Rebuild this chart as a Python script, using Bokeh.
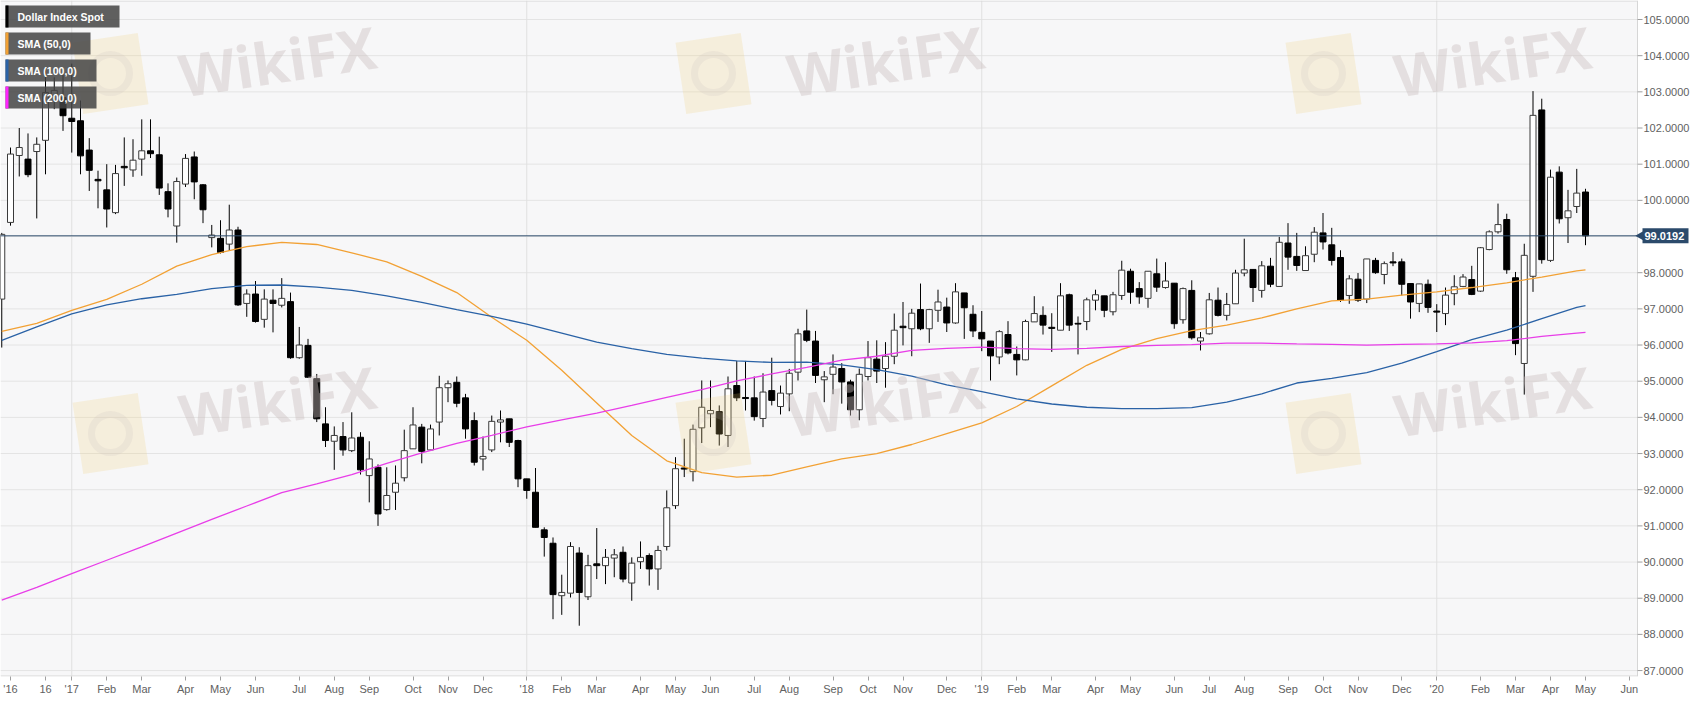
import math
import numpy as np
import pandas as pd
from bokeh.plotting import figure
from bokeh.models import Range1d, FixedTicker, Label, CustomJSTickFormatter, ColumnDataSource
from bokeh.core.properties import value
from bokeh.embed import file_html
from bokeh.resources import INLINE

# ---------------- data (weekly candles, Dollar Index Spot) ----------------
first_week = "2016-11-07"

opens = [
    97.27, 99.39, 101.24, 101.14, 101.35, 101.66, 102.90, 102.84, 102.27, 102.20,
    101.39, 100.58, 100.29, 99.66, 100.94, 100.84, 101.14, 101.37, 101.26, 100.24,
    99.29, 100.45, 101.20, 100.43, 98.97, 98.95, 98.79, 99.18, 97.15, 97.41,
    96.71, 97.24, 97.10, 97.20, 95.65, 95.99, 95.07, 93.82, 93.34, 93.47,
    93.08, 93.45, 92.39, 92.62, 91.45, 91.93, 92.33, 93.13, 93.73, 93.10,
    93.87, 94.82, 94.97, 94.54, 93.91, 92.85, 93.10, 93.87, 93.96, 93.36,
    92.30, 91.93, 90.89, 90.52, 89.07, 89.14, 90.25, 89.04, 89.95, 89.90,
    90.11, 90.27, 89.42, 90.01, 90.18, 89.81, 90.43, 91.56, 92.60, 92.50,
    93.71, 94.10, 94.16, 93.50, 94.88, 94.55, 94.54, 93.97, 94.74, 94.30,
    94.65, 95.25, 96.39, 96.11, 95.04, 95.19, 95.35, 94.98, 94.21, 95.13,
    95.61, 95.35, 95.69, 96.52, 96.45, 96.98, 96.45, 96.96, 97.05, 96.61,
    97.44, 96.85, 96.35, 96.11, 95.67, 96.29, 95.74, 95.59, 96.64, 96.82,
    96.49, 96.41, 97.39, 96.60, 96.65, 97.24, 97.36, 96.92, 97.37, 98.04,
    97.56, 97.29, 97.97, 97.59, 97.71, 96.70, 97.51, 96.11, 96.31, 97.24,
    96.82, 97.14, 97.99, 98.09, 97.51, 98.18, 97.62, 98.82, 98.45, 98.06,
    98.51, 99.10, 98.77, 98.42, 97.37, 97.82, 97.27, 98.34, 97.95, 98.30,
    98.30, 97.70, 97.15, 97.68, 96.94, 96.87, 97.42, 97.62, 97.81, 97.49,
    98.64, 99.13, 99.47, 97.86, 95.49, 97.90, 102.50, 98.34, 100.78, 99.52,
    99.83, 100.23,
]
highs = [
    99.10, 101.46, 102.00, 101.85, 101.74, 103.67, 103.40, 103.50, 103.78, 102.76,
    101.72, 100.82, 101.00, 100.98, 101.74, 101.69, 102.24, 102.24, 101.76, 100.47,
    100.63, 101.28, 101.35, 100.45, 99.32, 99.45, 99.88, 99.27, 97.54, 97.77,
    97.54, 97.54, 97.85, 97.45, 96.50, 96.17, 95.20, 94.28, 93.75, 93.87,
    94.14, 93.59, 93.34, 92.70, 92.62, 92.67, 93.66, 94.28, 93.82, 93.80,
    95.15, 95.02, 95.13, 94.65, 94.14, 93.47, 94.05, 94.19, 93.96, 93.38,
    92.30, 92.60, 90.96, 90.68, 89.65, 90.55, 90.41, 90.20, 90.94, 90.36,
    90.36, 90.43, 90.13, 90.57, 90.24, 90.45, 91.98, 92.90, 93.41, 93.80,
    95.02, 95.02, 94.33, 95.13, 95.56, 95.56, 95.13, 95.22, 95.65, 94.88,
    95.34, 96.45, 96.98, 96.39, 95.28, 95.74, 95.50, 95.04, 95.35, 96.11,
    96.13, 96.08, 96.87, 97.19, 97.00, 97.70, 97.00, 97.53, 97.31, 97.71,
    97.44, 97.10, 96.94, 96.11, 96.41, 96.66, 95.96, 96.70, 97.35, 97.07,
    96.88, 97.71, 97.42, 96.79, 97.31, 97.53, 97.36, 97.47, 98.33, 98.11,
    97.74, 98.04, 98.39, 98.29, 97.71, 97.59, 97.79, 96.36, 97.44, 97.59,
    97.44, 98.08, 98.94, 98.09, 98.32, 98.41, 98.99, 99.37, 99.10, 98.73,
    99.26, 99.65, 99.24, 98.62, 97.93, 97.99, 98.38, 98.41, 98.31, 98.57,
    98.39, 97.70, 97.69, 97.81, 97.13, 97.59, 97.93, 97.96, 98.19, 98.71,
    99.17, 99.91, 99.63, 98.02, 98.80, 103.02, 102.81, 100.85, 100.94, 100.29,
    100.87, 100.32,
]
lows = [
    95.93, 99.30, 100.66, 100.64, 99.50, 100.72, 102.52, 101.92, 101.32, 100.72,
    100.26, 99.78, 99.25, 99.62, 100.40, 100.65, 100.68, 101.17, 100.15, 99.53,
    98.83, 100.37, 100.03, 99.37, 98.70, 98.53, 98.60, 97.08, 96.78, 96.62,
    96.48, 96.35, 97.04, 95.62, 95.62, 95.09, 93.87, 93.18, 92.55, 92.94,
    93.04, 92.42, 91.65, 91.00, 91.42, 91.44, 92.23, 93.13, 92.73, 93.10,
    93.50, 94.42, 94.28, 93.41, 92.67, 92.53, 93.04, 93.31, 93.18, 92.07,
    91.75, 90.96, 90.15, 88.42, 88.54, 89.02, 88.24, 88.95, 89.53, 89.39,
    89.58, 89.44, 88.93, 89.81, 89.35, 89.23, 90.32, 91.47, 92.35, 92.23,
    93.29, 93.73, 93.22, 93.18, 94.45, 94.19, 93.91, 93.73, 94.33, 94.08,
    94.17, 95.02, 96.08, 94.95, 94.42, 94.64, 94.38, 94.05, 93.92, 95.02,
    94.95, 94.82, 95.47, 95.99, 95.69, 96.41, 96.06, 96.64, 96.36, 96.59,
    96.17, 96.22, 95.83, 95.02, 95.47, 95.74, 95.16, 95.58, 96.64, 96.29,
    95.81, 96.41, 96.39, 95.74, 96.41, 96.96, 96.77, 96.82, 97.25, 97.14,
    97.14, 97.03, 97.47, 97.56, 96.45, 96.59, 96.15, 95.85, 96.29, 96.79,
    96.68, 97.14, 97.90, 97.19, 97.31, 97.60, 97.62, 98.08, 98.05, 98.06,
    98.29, 98.64, 98.20, 97.19, 97.14, 97.19, 97.16, 97.97, 97.68, 98.18,
    97.37, 96.73, 96.91, 96.89, 96.36, 96.55, 97.10, 97.60, 97.38, 97.47,
    98.62, 99.08, 97.97, 95.72, 94.63, 97.47, 98.25, 98.30, 99.36, 98.82,
    99.65, 98.76,
]
closes = [
    99.06, 101.28, 101.46, 100.71, 101.55, 102.98, 103.04, 102.34, 102.18, 101.23,
    100.83, 100.54, 99.76, 100.74, 100.90, 101.11, 101.37, 101.29, 100.34, 99.76,
    100.52, 101.16, 100.51, 99.74, 99.04, 98.56, 99.18, 97.11, 97.41, 96.65,
    97.27, 97.15, 97.29, 95.65, 96.00, 95.11, 93.96, 93.36, 93.50, 93.10,
    93.43, 92.55, 92.85, 91.33, 91.84, 92.18, 93.08, 93.79, 93.06, 93.68,
    94.82, 94.93, 94.39, 93.68, 92.76, 92.92, 93.89, 93.93, 93.31, 92.30,
    91.98, 90.96, 90.68, 89.10, 89.16, 90.43, 89.16, 89.90, 89.90, 90.13,
    90.20, 89.53, 89.97, 90.13, 89.81, 90.32, 91.50, 92.58, 92.57, 93.67,
    94.28, 94.19, 93.54, 94.79, 94.54, 94.52, 94.02, 94.70, 94.47, 94.67,
    95.22, 96.31, 96.13, 95.16, 95.12, 95.39, 94.98, 94.21, 95.19, 95.65,
    95.28, 95.69, 96.41, 96.48, 96.88, 96.45, 96.98, 97.19, 96.61, 97.47,
    97.03, 96.39, 96.17, 95.70, 96.37, 95.78, 95.59, 96.65, 96.87, 96.55,
    96.46, 97.36, 96.55, 96.58, 97.25, 97.39, 96.96, 97.39, 98.07, 97.46,
    97.33, 98.04, 97.60, 97.77, 96.59, 97.56, 96.20, 96.20, 97.25, 96.82,
    97.12, 97.99, 98.08, 97.59, 98.19, 97.68, 98.84, 98.43, 98.20, 98.47,
    99.12, 98.85, 98.34, 97.24, 97.83, 97.24, 98.38, 98.00, 98.25, 98.27,
    97.68, 97.19, 97.69, 97.04, 96.91, 97.38, 97.61, 97.88, 97.40, 98.69,
    99.13, 99.33, 98.08, 96.04, 98.48, 102.35, 98.36, 100.64, 99.49, 99.71,
    100.20, 99.0192,
]

# moving averages at every 4th week (week index into the candles)
sma_weeks = list(range(0, 181, 4)) + [181]
sma50 = [96.38, 96.60, 96.96, 97.26, 97.68, 98.18, 98.50, 98.72, 98.84, 98.78,
         98.55, 98.30, 97.90, 97.45, 96.77, 96.13, 95.30, 94.40, 93.50, 92.80,
         92.47, 92.35, 92.40, 92.63, 92.85, 93.00, 93.25, 93.55, 93.85, 94.30,
         94.87, 95.44, 95.88, 96.18, 96.40, 96.55, 96.75, 97.00, 97.22, 97.27,
         97.38, 97.47, 97.59, 97.72, 97.88, 98.05, 98.08]
sma100 = [96.13, 96.50, 96.86, 97.11, 97.28, 97.40, 97.56, 97.65, 97.66, 97.60,
          97.51, 97.36, 97.18, 96.98, 96.79, 96.58, 96.33, 96.08, 95.90, 95.74,
          95.64, 95.56, 95.52, 95.53, 95.45, 95.32, 95.14, 94.90, 94.71, 94.51,
          94.37, 94.28, 94.24, 94.24, 94.27, 94.42, 94.65, 94.95, 95.08, 95.24,
          95.50, 95.82, 96.15, 96.41, 96.73, 97.04, 97.09]
sma200 = [88.95, 89.30, 89.68, 90.05, 90.42, 90.80, 91.18, 91.55, 91.92, 92.16,
          92.42, 92.73, 93.02, 93.28, 93.50, 93.74, 93.93, 94.12, 94.33, 94.55,
          94.77, 95.01, 95.20, 95.38, 95.58, 95.69, 95.85, 95.91, 95.94, 95.90,
          95.88, 95.91, 95.96, 95.99, 96.01, 96.05, 96.05, 96.03, 96.02, 96.00,
          96.02, 96.03, 96.06, 96.12, 96.24, 96.33, 96.35]

last_price = 99.0192

y_ticks = list(range(87, 106))
tick_dates = ["2016-11-14", "2016-12-12", "2017-01-02", "2017-01-30", "2017-02-27", "2017-04-03",
              "2017-05-01", "2017-05-29", "2017-07-03", "2017-07-31", "2017-08-28", "2017-10-02",
              "2017-10-30", "2017-11-27", "2018-01-01", "2018-01-29", "2018-02-26", "2018-04-02",
              "2018-04-30", "2018-05-28", "2018-07-02", "2018-07-30", "2018-09-03", "2018-10-01",
              "2018-10-29", "2018-12-03", "2018-12-31", "2019-01-28", "2019-02-25", "2019-04-01",
              "2019-04-29", "2019-06-03", "2019-07-01", "2019-07-29", "2019-09-02", "2019-09-30",
              "2019-10-28", "2019-12-02", "2019-12-30", "2020-02-03", "2020-03-02", "2020-03-30",
              "2020-04-27", "2020-06-01"]
tick_labels = ["'16", "16", "'17", "Feb", "Mar", "Apr", "May", "Jun", "Jul", "Aug", "Sep", "Oct",
               "Nov", "Dec", "'18", "Feb", "Mar", "Apr", "May", "Jun", "Jul", "Aug", "Sep", "Oct",
               "Nov", "Dec", "'19", "Feb", "Mar", "Apr", "May", "Jun", "Jul", "Aug", "Sep", "Oct",
               "Nov", "Dec", "'20", "Feb", "Mar", "Apr", "May", "Jun"]
year_lines = ["2017-01-02", "2018-01-01", "2018-12-31", "2019-12-30"]

legend_names = ["Dollar Index Spot", "SMA (50,0)", "SMA (100,0)", "SMA (200,0)"]

# ---------------- layout ----------------
CHART_W, AXIS_W, FRAME_H = 1637, 54, 676
TOTAL_W = CHART_W + AXIS_W
PX_PER_UNIT = 36.17
x_start = pd.Timestamp("2016-11-06")
PX_PER_DAY = 1.25
y_hi = 105 + 19 / PX_PER_UNIT
y_lo = y_hi - FRAME_H / PX_PER_UNIT

x0_ms = x_start.value / 1e6
ms_per_px = 86400000.0 / PX_PER_DAY
xc = x0_ms + CHART_W * ms_per_px          # right edge of the chart area
x_full_end = x0_ms + TOTAL_W * ms_per_px
u_per_px = 1.0 / PX_PER_UNIT


def fx(px):
    return x0_ms + px * ms_per_px


def fy(py):
    return y_hi - py * u_per_px


def ms(d):
    return pd.Timestamp(d).value / 1e6


dates = pd.date_range(first_week, periods=len(opens), freq="7D")
o = np.array(opens)
c = np.array(closes)
h = np.array(highs)
l = np.array(lows)
up = c >= o

p = figure(x_axis_type="datetime", y_axis_location=None,
           frame_width=TOTAL_W, frame_height=FRAME_H,
           x_range=Range1d(x0_ms, x_full_end), y_range=Range1d(y_lo, y_hi),
           output_backend="svg", toolbar_location=None,
           min_border_left=0, min_border_top=0, min_border_right=0, min_border_bottom=20,
           background_fill_color="white", border_fill_color="white",
           outline_line_color=None)
p.grid.visible = False

GRID = "#e4e4e4"
BORDER = "#d6d6d6"

# chart background, grid, borders
p.quad(left=[x0_ms], right=[xc], bottom=[y_lo], top=[y_hi], fill_color="#f7f7f8", line_color=None)
p.segment(x0=[x0_ms] * len(y_ticks), x1=[xc] * len(y_ticks), y0=y_ticks, y1=y_ticks,
          line_color=GRID, line_width=1)
yl = [ms(d) for d in year_lines]
p.segment(x0=yl, x1=yl, y0=[y_lo] * len(yl), y1=[y_hi] * len(yl), line_color="#e0e0e0", line_width=1)
p.segment(x0=[x0_ms, xc, x0_ms], x1=[xc, xc, xc],
          y0=[y_hi - 0.5 * u_per_px, y_lo, y_lo + 0.5 * u_per_px],
          y1=[y_hi - 0.5 * u_per_px, y_hi, y_lo + 0.5 * u_per_px],
          line_color=BORDER, line_width=1)

# candles
p.segment(x0=dates, y0=l, x1=dates, y1=h, line_color="black", line_width=1)
src = ColumnDataSource(dict(
    x=dates, top=np.maximum(o, c), bottom=np.minimum(o, c),
    fill=["white" if u else "black" for u in up],
    line=["#3a3a3a" if u else "black" for u in up]))
p.vbar(x="x", width=6 * ms_per_px, top="top", bottom="bottom", fill_color="fill",
       line_color="line", line_width=1, source=src)

# moving averages
sx = dates[sma_weeks]
p.line(sx, sma50, line_color="#f2a134", line_width=1.3)
p.line(sx, sma100, line_color="#2a62a6", line_width=1.3)
p.line(sx, sma200, line_color="#e83ee8", line_width=1.3)

# current price line
p.segment(x0=[x0_ms], x1=[xc], y0=[last_price], y1=[last_price], line_color="#2f4e6e", line_width=1)

# watermarks
for wy_text, wy_logo in [(60, 73), (400, 433)]:
    for wx_text, wx_logo in [(277, 110), (885, 713), (1492, 1323)]:
        p.rect(x=[fx(wx_logo)], y=[fy(wy_logo)], width=66, height=72, width_units="screen",
               height_units="screen", angle=0.15, fill_color="#f0cf70", fill_alpha=0.2, line_color=None)
        p.scatter(x=[fx(wx_logo)], y=[fy(wy_logo)], size=38, marker="circle", fill_color=None,
                  line_color="#c9bdbd", line_width=7, line_alpha=0.18)
        p.add_layout(Label(x=fx(wx_text), y=fy(wy_text), text="WikiFX", text_align="center",
                           text_baseline="middle", angle=0.15, text_font="Open Sans",
                           text_font_size="58px", text_font_style="bold",
                           text_color="#cbbfbf", text_alpha=0.42))

# legend boxes (top-left)
box_w = [114, 85, 91, 91]
box_cy = [16, 43, 70, 97]
bar_colors = ["black", "#f2a134", "#2a62a6", "#ff22ff"]
p.rect(x=[fx(5 + w / 2) for w in box_w], y=[fy(cy) for cy in box_cy], width=box_w, height=22,
       width_units="screen", height_units="screen", fill_color="#444444", fill_alpha=0.85, line_color=None)
p.rect(x=[fx(6.5)] * 4, y=[fy(cy) for cy in box_cy], width=3, height=22,
       width_units="screen", height_units="screen", fill_color=bar_colors, line_color=None)
for name, cy in zip(legend_names, box_cy):
    p.add_layout(Label(x=fx(17), y=fy(cy), text=name, text_baseline="middle", text_align="left",
                       text_color="white", text_font="Liberation Sans", text_font_size="10.5px",
                       text_font_style="bold"))

# right price axis (drawn in the area right of the chart)
p.segment(x0=[xc] * len(y_ticks), x1=[fx(CHART_W + 5)] * len(y_ticks), y0=y_ticks, y1=y_ticks,
          line_color="#a0a0a0", line_width=1)
lab_y = [v for v in y_ticks if abs(v - last_price) > 0.5]
p.text(x=[xc] * len(lab_y), y=lab_y, text=[f"{v:.4f}" for v in lab_y], x_offset=6,
       text_align="left", text_baseline="middle", text_font=value("Liberation Sans"),
       text_font_size="11px", text_color="#616161")

# price tag
p.scatter(x=[fx(CHART_W + 3)], y=[last_price], marker="triangle", angle=math.pi / 2, size=9,
          fill_color="#2b4a6b", line_color=None)
p.rect(x=[fx(CHART_W + 28)], y=[last_price], width=46, height=15, width_units="screen",
       height_units="screen", fill_color="#2b4a6b", line_color=None)
p.text(x=[xc], y=[last_price], text=[f"{last_price:.4f}"], x_offset=7, text_align="left",
       text_baseline="middle", text_font=value("Liberation Sans"), text_font_size="11px",
       text_font_style="bold", text_color="white")

# bottom axis
tick_ms = [ms(d) for d in tick_dates]
p.xaxis.ticker = FixedTicker(ticks=tick_ms)
p.xaxis.formatter = CustomJSTickFormatter(args=dict(tv=tick_ms, tl=tick_labels), code="""
let best = -1, bd = 1e18;
for (let i = 0; i < tv.length; i++) { const d = Math.abs(tv[i] - tick); if (d < bd) { bd = d; best = i; } }
return bd < 1e8 ? tl[best] : '';
""")
p.xaxis.major_label_text_font = "Liberation Sans"
p.xaxis.major_label_text_font_size = "11px"
p.xaxis.major_label_text_color = "#616161"
p.xaxis.major_tick_line_color = "#a0a0a0"
p.xaxis.major_tick_in = 0
p.xaxis.major_tick_out = 4
p.xaxis.major_label_standoff = 2
p.xaxis.minor_tick_line_color = None
p.xaxis.axis_line_color = None

open("out.html", "w").write(file_html(p, INLINE, title="Dollar Index Spot"))
